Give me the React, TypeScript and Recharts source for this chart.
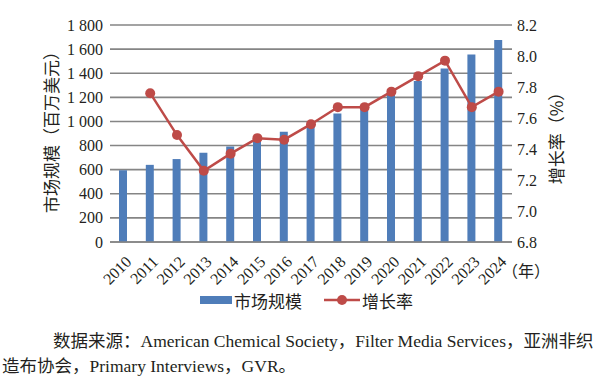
import React from 'react';
import {
  ComposedChart,
  Bar,
  Line,
  XAxis,
  YAxis,
  CartesianGrid,
} from 'recharts';

const years = [
  '2010', '2011', '2012', '2013', '2014', '2015', '2016', '2017',
  '2018', '2019', '2020', '2021', '2022', '2023', '2024',
];
const marketSize = [
  595, 640, 688, 740, 792, 858, 915, 965, 1065, 1120, 1232, 1335, 1440, 1556, 1675,
];
const growthRate = [
  null, 7.76, 7.49, 7.26, 7.37, 7.47, 7.46, 7.56, 7.67, 7.67, 7.77, 7.87, 7.97, 7.67, 7.77,
];
const leftTicks = [0, 200, 400, 600, 800, 1000, 1200, 1400, 1600, 1800];
const rightTicks = [6.8, 7.0, 7.2, 7.4, 7.6, 7.8, 8.0, 8.2];

const BAR_COLOR = '#4F7DB9';
const LINE_COLOR = '#BE4B48';
const TEXT_COLOR = '#231F20';
const GRID_COLOR = '#858585';
const SERIF = '"Liberation Serif", "Times New Roman", "DejaVu Serif", "Noto Sans CJK SC", serif';
const CJK = '"Noto Sans CJK SC", sans-serif';

const chartData = years.map((year, i) => ({
  year,
  size: marketSize[i],
  rate: growthRate[i],
}));

const fmtThousands = (v: number) =>
  v >= 1000 ? `${Math.floor(v / 1000)} ${String(v % 1000).padStart(3, '0')}` : String(v);

const YearTick = (props: any) => {
  const { x, y, payload } = props;
  const tx = x + 5;
  const ty = y + 9;
  return (
    <text
      x={tx}
      y={ty}
      transform={`rotate(-45, ${tx}, ${ty})`}
      textAnchor="end"
      dominantBaseline="central"
      style={{ fontSize: 16, fontFamily: SERIF, fill: TEXT_COLOR }}
    >
      {payload.value}
    </text>
  );
};

const LeftTick = (props: any) => {
  const { x, y, payload } = props;
  return (
    <text
      x={x}
      y={y}
      textAnchor="end"
      dominantBaseline="central"
      style={{ fontSize: 16, fontFamily: SERIF, fill: TEXT_COLOR }}
    >
      {fmtThousands(payload.value)}
    </text>
  );
};

const RightTick = (props: any) => {
  const { x, y, payload } = props;
  return (
    <text
      x={x}
      y={y}
      textAnchor="start"
      dominantBaseline="central"
      style={{ fontSize: 16, fontFamily: SERIF, fill: TEXT_COLOR }}
    >
      {Number(payload.value).toFixed(1)}
    </text>
  );
};

export default function App() {
  return (
    <div
      style={{
        position: 'absolute',
        left: 0,
        top: 0,
        width: 600,
        height: 384,
        background: '#fff',
        overflow: 'hidden',
      }}
    >
      <ComposedChart
        width={600}
        height={290}
        data={chartData}
        margin={{ top: 25, right: 48, left: 50, bottom: 8 }}
      >
        <CartesianGrid
          yAxisId="left"
          vertical={false}
          stroke={GRID_COLOR}
          strokeWidth={1.6}
        />
        <XAxis
          dataKey="year"
          height={40}
          interval={0}
          tickLine={false}
          axisLine={{ stroke: GRID_COLOR, strokeWidth: 1.6 }}
          tick={<YearTick />}
        />
        <YAxis
          yAxisId="left"
          width={60}
          domain={[0, 1800]}
          ticks={leftTicks}
          axisLine={false}
          tickLine={false}
          tickSize={5}
          tickMargin={2}
          tick={<LeftTick />}
        />
        <YAxis
          yAxisId="right"
          orientation="right"
          width={40}
          domain={[6.8, 8.2]}
          ticks={rightTicks}
          axisLine={false}
          tickLine={false}
          tickSize={3}
          tickMargin={2}
          tick={<RightTick />}
        />
        <Bar
          yAxisId="left"
          dataKey="size"
          fill={BAR_COLOR}
          barSize={8}
          isAnimationActive={false}
        />
        <Line
          yAxisId="right"
          dataKey="rate"
          stroke={LINE_COLOR}
          strokeWidth={2.5}
          dot={{ r: 5, fill: LINE_COLOR, stroke: LINE_COLOR, strokeWidth: 0 }}
          activeDot={false}
          connectNulls={false}
          isAnimationActive={false}
        />
      </ComposedChart>

      {/* axis titles */}
      <div
        style={{
          position: 'absolute',
          left: 50,
          top: 128,
          transform: 'translate(-50%, -50%) rotate(-90deg)',
          whiteSpace: 'nowrap',
          fontFamily: CJK,
          fontSize: 17,
          color: TEXT_COLOR,
          lineHeight: 1,
        }}
      >
        市场规模（百万美元）
      </div>
      <div
        style={{
          position: 'absolute',
          left: 555,
          top: 134,
          transform: 'translate(-50%, -50%) rotate(-90deg)',
          whiteSpace: 'nowrap',
          fontFamily: CJK,
          fontSize: 17,
          color: TEXT_COLOR,
          lineHeight: 1,
        }}
      >
        增长率（%）
      </div>
      <div
        style={{
          position: 'absolute',
          left: 502,
          top: 262,
          whiteSpace: 'nowrap',
          fontFamily: CJK,
          fontSize: 16,
          color: TEXT_COLOR,
          lineHeight: 1,
        }}
      >
        （年）
      </div>

      {/* legend */}
      <div
        style={{
          position: 'absolute',
          left: 200,
          top: 290,
          height: 20,
          display: 'flex',
          alignItems: 'center',
          fontFamily: CJK,
          fontSize: 17,
          color: TEXT_COLOR,
          whiteSpace: 'nowrap',
        }}
      >
        <svg width={32} height={10} style={{ marginRight: 2 }}>
          <rect x={0} y={1} width={32} height={8} fill={BAR_COLOR} />
        </svg>
        <span>市场规模</span>
        <svg width={36} height={12} style={{ marginLeft: 22, marginRight: 2 }}>
          <line x1={0} y1={6} x2={36} y2={6} stroke={LINE_COLOR} strokeWidth={2.5} />
          <circle cx={18} cy={6} r={5} fill={LINE_COLOR} />
        </svg>
        <span>增长率</span>
      </div>

      {/* source note */}
      <div
        style={{
          position: 'absolute',
          left: 0,
          top: 329,
          width: 600,
          fontFamily: SERIF,
          fontSize: 17.5,
          color: TEXT_COLOR,
          lineHeight: '25px',
          whiteSpace: 'nowrap',
        }}
      >
        <div style={{ paddingLeft: 53 }}>
          数据来源：American Chemical Society，Filter Media Services，亚洲非织
        </div>
        <div style={{ paddingLeft: 2 }}>造布协会，Primary Interviews，GVR。</div>
      </div>
    </div>
  );
}
